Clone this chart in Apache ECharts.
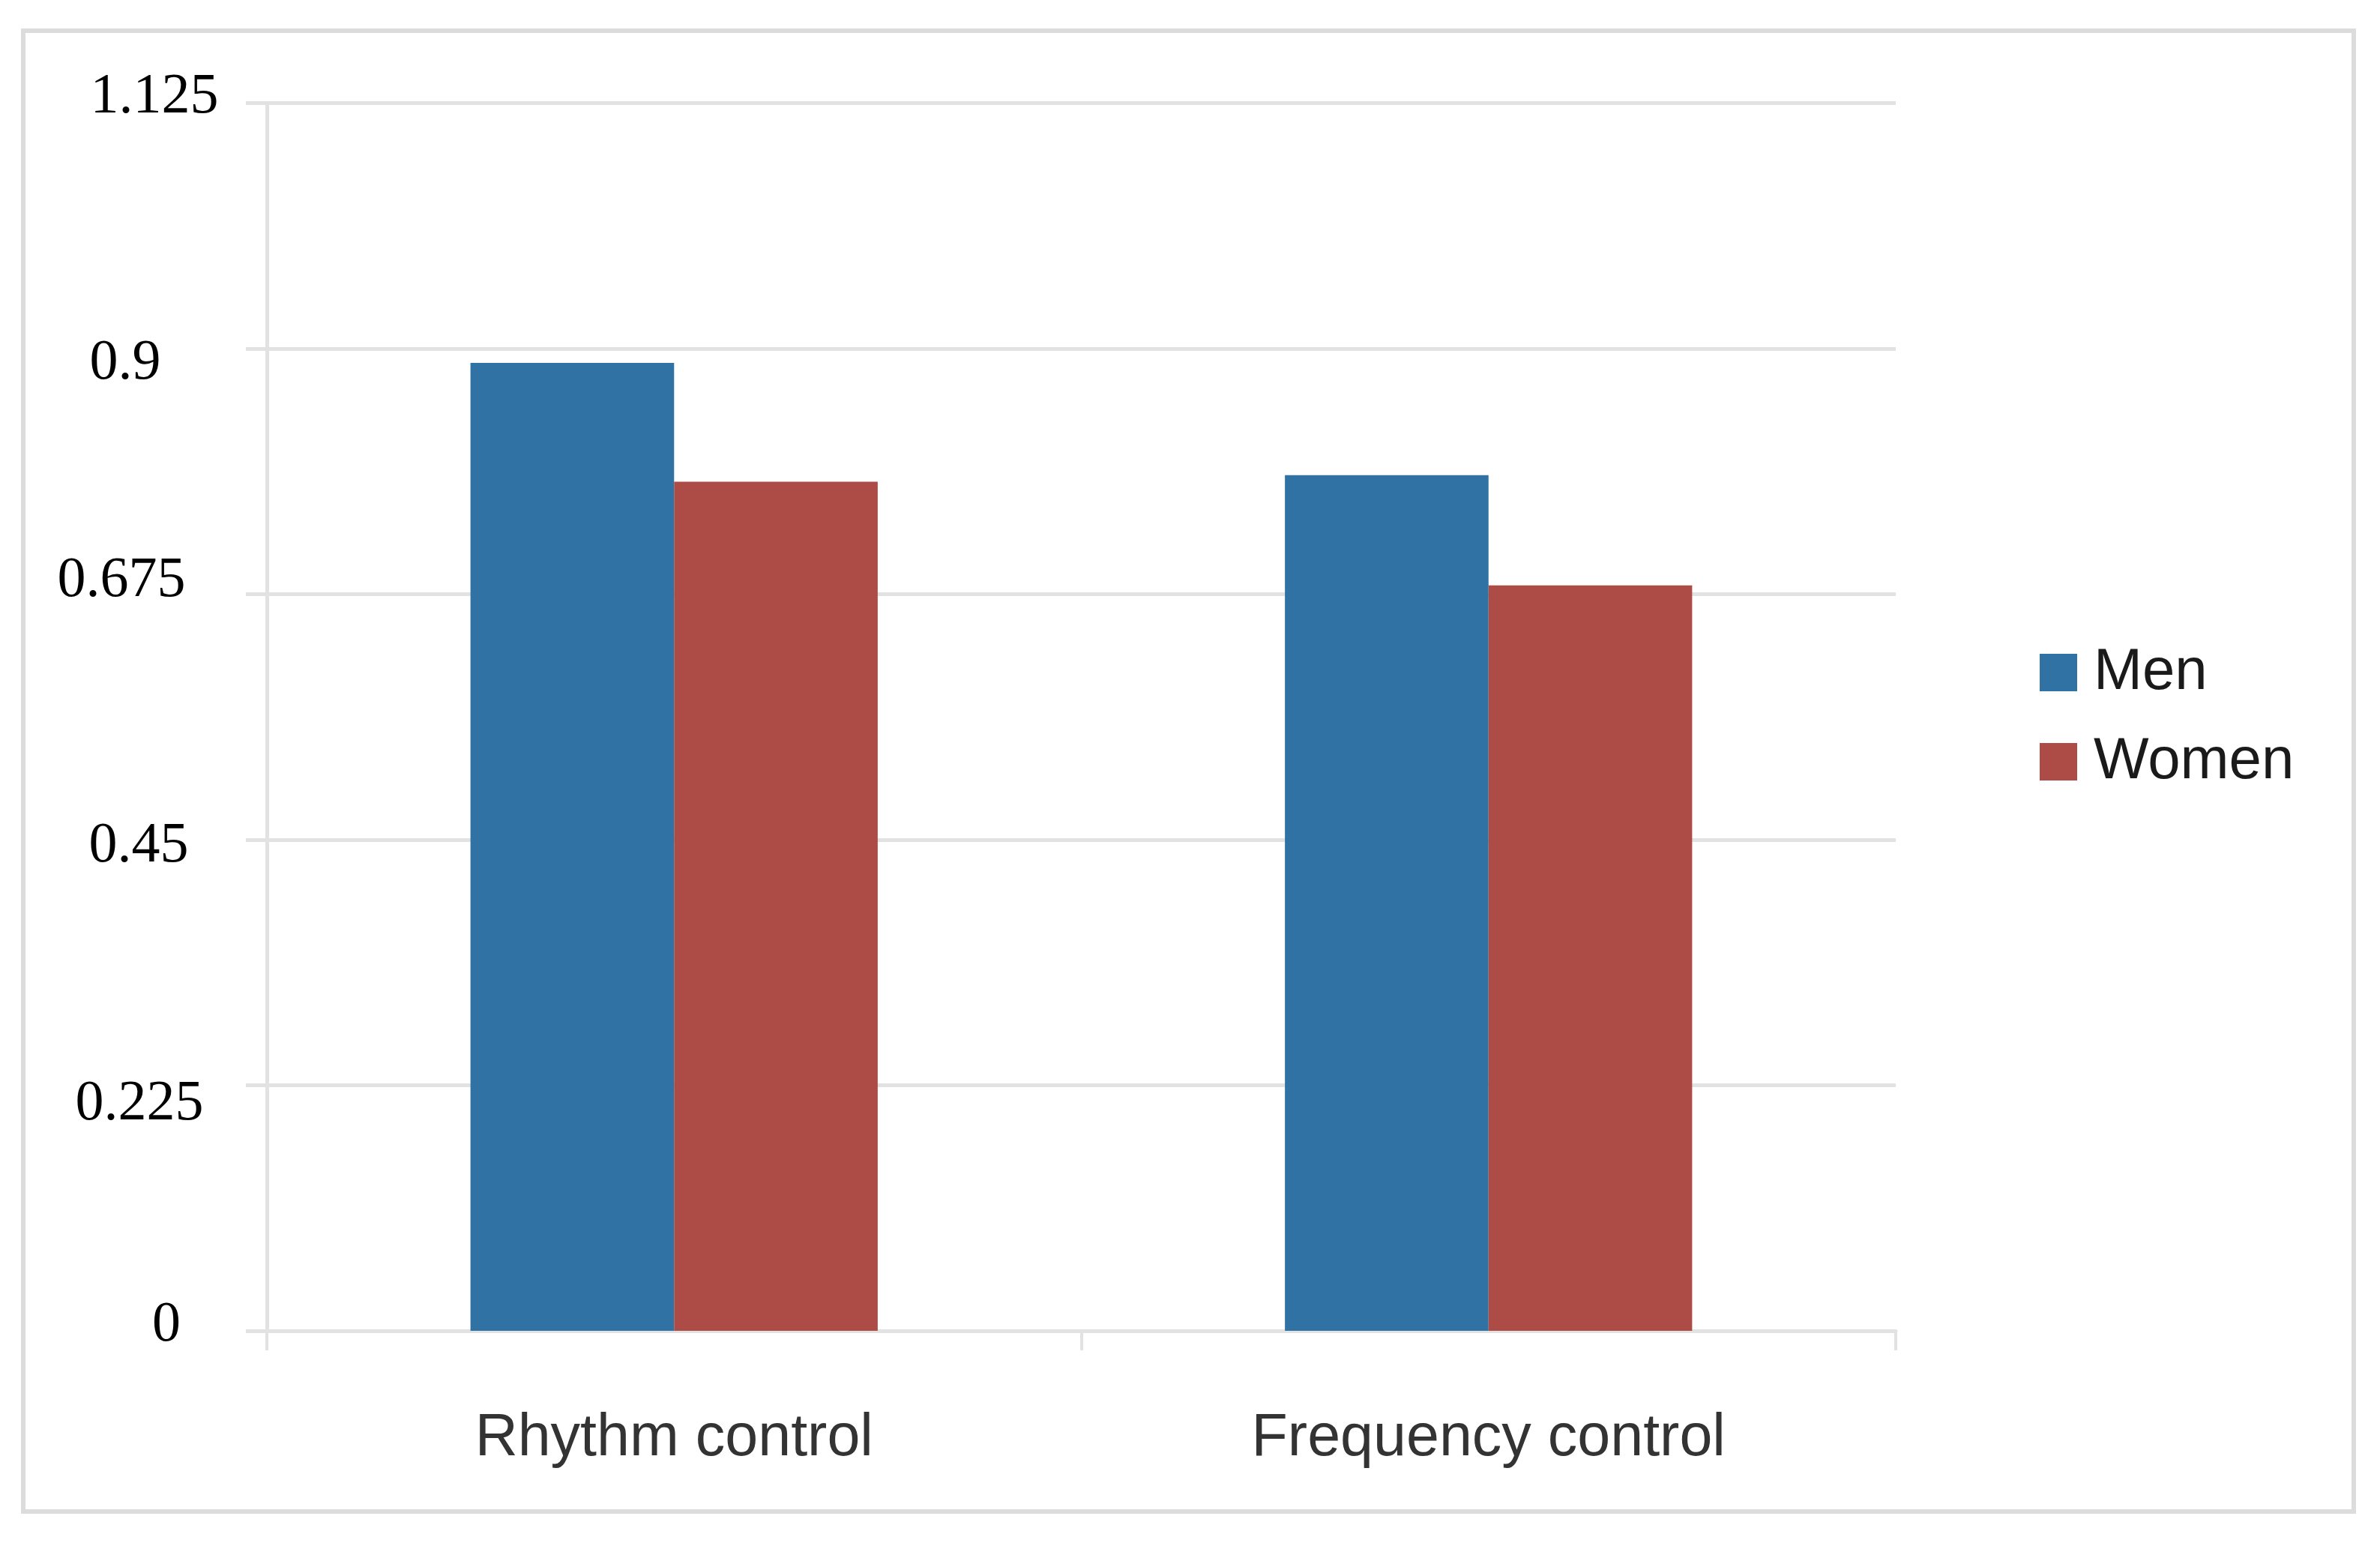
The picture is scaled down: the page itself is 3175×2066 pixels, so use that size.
<!DOCTYPE html>
<html>
<head>
<meta charset="utf-8">
<script src="https://cdn.jsdelivr.net/npm/echarts@6/dist/echarts.min.js"></script>
<style>
html,body{margin:0;padding:0;background:#fff;}
#chart{width:3175px;height:2066px;}
</style>
</head>
<body>
<div id="chart"></div>
<script>
const categories = ['Rhythm control', 'Frequency control'];
const seriesNames = ['Men', 'Women'];
const menValues = [0.887, 0.784];
const womenValues = [0.778, 0.683];
const yTickLabels = ['0', '0.225', '0.45', '0.675', '0.9', '1.125'];

// label nudges (style only): [dx, dy] in px, per tick index
const labelNudge = [[36, -7], [0, 26], [-1, 9], [-24, -17], [-19, 20], [20, -7]];

const rich = {};
labelNudge.forEach(function (n, i) {
  const dx = n[0], dy = n[1];
  rich['t' + i] = {
    fontFamily: 'Liberation Serif',
    fontSize: 76,
    color: '#000000',
    padding: [dy > 0 ? 2 * dy : 0, dx < 0 ? -2 * dx : 0, dy < 0 ? -2 * dy : 0, dx > 0 ? 2 * dx : 0]
  };
});

const chart = echarts.init(document.getElementById('chart'));
const gridColor = '#e2e2e2';
chart.setOption({
  backgroundColor: '#ffffff',
  animation: false,
  graphic: [{
    type: 'rect',
    shape: { x: 31, y: 41, width: 3109, height: 1975 },
    style: { fill: 'none', stroke: '#dcdcdc', lineWidth: 6 },
    silent: true
  }],
  legend: {
    orient: 'vertical',
    left: 2716,
    top: 853,
    itemWidth: 50,
    itemHeight: 50,
    itemGap: 41,
    icon: 'rect',
    data: seriesNames,
    textStyle: {
      fontFamily: 'Liberation Sans',
      fontSize: 78,
      lineHeight: 78,
      color: '#1a1a1a',
      padding: [0, 0, 0, 17]
    }
  },
  grid: { left: 356, right: 646, top: 137.5, bottom: 291, containLabel: false },
  xAxis: {
    type: 'category',
    data: categories,
    boundaryGap: true,
    axisLine: { show: true, lineStyle: { color: gridColor, width: 5 } },
    axisTick: { show: true, length: 26, alignWithLabel: false, lineStyle: { color: gridColor, width: 4 } },
    axisLabel: {
      margin: 105,
      fontFamily: 'Liberation Sans',
      fontSize: 79,
      color: '#333333'
    },
    splitLine: { show: false }
  },
  yAxis: {
    type: 'value',
    min: 0,
    max: 1.125,
    interval: 0.225,
    axisLine: { show: true, lineStyle: { color: gridColor, width: 5 } },
    axisTick: { show: true, length: 28, lineStyle: { color: gridColor, width: 5 } },
    splitLine: { show: true, lineStyle: { color: gridColor, width: 5 } },
    axisLabel: {
      margin: 170,
      align: 'center',
      verticalAlign: 'middle',
      fontFamily: 'Liberation Serif',
      fontSize: 76,
      color: '#000000',
      rich: rich,
      formatter: function (v) {
        const i = Math.round(v / 0.225);
        const t = yTickLabels[i] !== undefined ? yTickLabels[i] : String(v);
        return '{t' + i + '|' + t + '}';
      }
    }
  },
  series: [
    {
      name: seriesNames[0],
      type: 'bar',
      data: menValues,
      barGap: '0%',
      barCategoryGap: '50%',
      itemStyle: { color: '#2F72A3' }
    },
    {
      name: seriesNames[1],
      type: 'bar',
      data: womenValues,
      barGap: '0%',
      barCategoryGap: '50%',
      itemStyle: { color: '#AD4B47' }
    }
  ]
});
</script>
</body>
</html>
